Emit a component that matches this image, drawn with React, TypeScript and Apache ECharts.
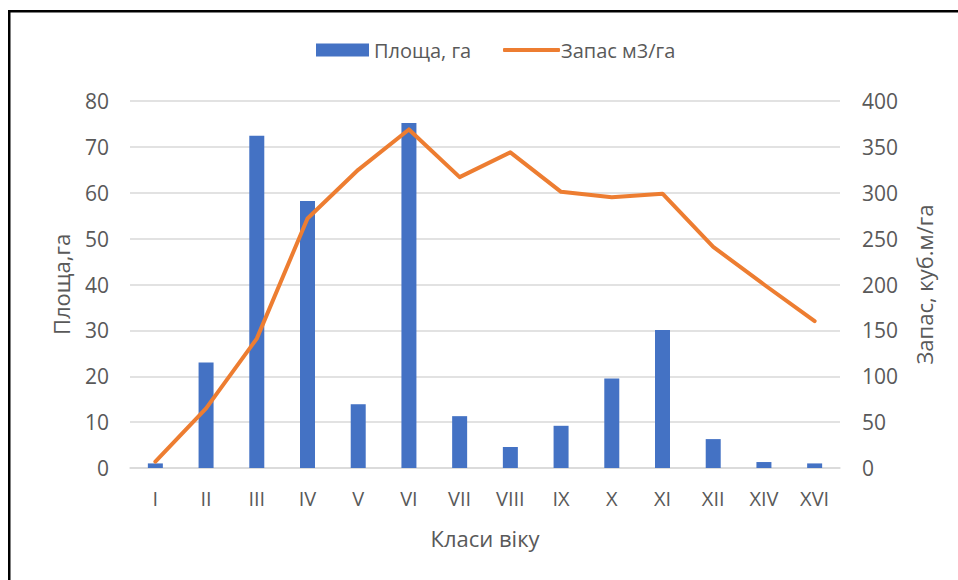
import React, { useEffect, useRef } from "react";
import * as echarts from "echarts";

const categories = ["I", "II", "III", "IV", "V", "VI", "VII", "VIII", "IX", "X", "XI", "XII", "XIV", "XVI"];
const areaValues = [1.0, 23.0, 72.4, 58.2, 13.9, 75.2, 11.3, 4.6, 9.2, 19.5, 30.1, 6.3, 1.3, 1.0];
const stockValues = [7, 65, 141, 272, 325, 369, 317, 344, 301, 295, 299, 241, 200, 160];
const areaName = "Площа, га";
const stockName = "Запас м3/га";
const leftAxisTitle = "Площа,га";
const rightAxisTitle = "Запас, куб.м/га";
const xAxisTitle = "Класи віку";

const FONT = "'Open Sans', 'Noto Sans', sans-serif";
const TXT = "#595959";
const GRID = "#d9d9d9";

export default function App() {
  const ref = useRef<HTMLDivElement>(null);
  useEffect(() => {
    if (!ref.current) return;
    const chart = echarts.init(ref.current, null, { renderer: "svg" });
    chart.setOption({
      animation: false,
      backgroundColor: "#fff",
      textStyle: { fontFamily: FONT, color: TXT },
      legend: [
        {
          left: 311,
          top: 35,
          itemWidth: 53,
          itemHeight: 13,
          textStyle: { fontSize: 20, color: TXT, fontFamily: FONT },
          data: [{ name: areaName, icon: "rect" }],
        },
        {
          left: 498,
          top: 35,
          itemWidth: 57,
          itemHeight: 4,
          itemGap: 0,
          textStyle: { fontSize: 20, color: TXT, fontFamily: FONT, padding: [0, 0, 0, -4] },
          data: [{ name: stockName, icon: "roundRect", itemStyle: { color: "#ED7D31" } }],
        },
      ],
      grid: { left: 130, right: 118, top: 101, bottom: 112 },
      xAxis: {
        type: "category",
        data: categories,
        name: xAxisTitle,
        nameLocation: "middle",
        nameGap: 59,
        nameTextStyle: { fontSize: 22, color: TXT, fontFamily: FONT },
        axisLine: { lineStyle: { color: GRID, width: 1.5 } },
        axisTick: { show: false },
        axisLabel: { fontSize: 20, color: TXT, margin: 20, fontFamily: FONT, interval: 0 },
      },
      yAxis: [
        {
          type: "value",
          min: 0,
          max: 80,
          interval: 10,
          name: leftAxisTitle,
          nameLocation: "middle",
          nameGap: 58,
          nameTextStyle: { fontSize: 22, color: TXT, fontFamily: FONT },
          axisLine: { show: false },
          axisTick: { show: false },
          axisLabel: { fontSize: 21, color: TXT, margin: 21, fontFamily: FONT },
          splitLine: { lineStyle: { color: GRID, width: 1.5 } },
        },
        {
          type: "value",
          min: 0,
          max: 400,
          interval: 50,
          name: rightAxisTitle,
          nameLocation: "middle",
          nameGap: 73,
          nameTextStyle: { fontSize: 22, color: TXT, fontFamily: FONT },
          axisLine: { show: false },
          axisTick: { show: false },
          axisLabel: { fontSize: 21, color: TXT, margin: 22, fontFamily: FONT },
          splitLine: { show: false },
        },
      ],
      series: [
        {
          name: areaName,
          type: "bar",
          data: areaValues,
          barWidth: 15,
          itemStyle: { color: "#4472C4" },
          yAxisIndex: 0,
        },
        {
          name: stockName,
          type: "line",
          data: stockValues,
          yAxisIndex: 1,
          symbol: "none",
          lineStyle: { color: "#ED7D31", width: 4, cap: "round", join: "round" },
          itemStyle: { color: "#ED7D31" },
        },
      ],
      graphic: [
        { type: "rect", shape: { x: 8, y: 10, width: 950, height: 2.5 }, style: { fill: "#000" }, silent: true },
        { type: "rect", shape: { x: 8, y: 10, width: 2.5, height: 570 }, style: { fill: "#000" }, silent: true },
      ],
    });
    return () => chart.dispose();
  }, []);
  return (
    <div
      ref={ref}
      style={{ position: "absolute", left: 0, top: 0, width: 958, height: 580 }}
    />
  );
}
